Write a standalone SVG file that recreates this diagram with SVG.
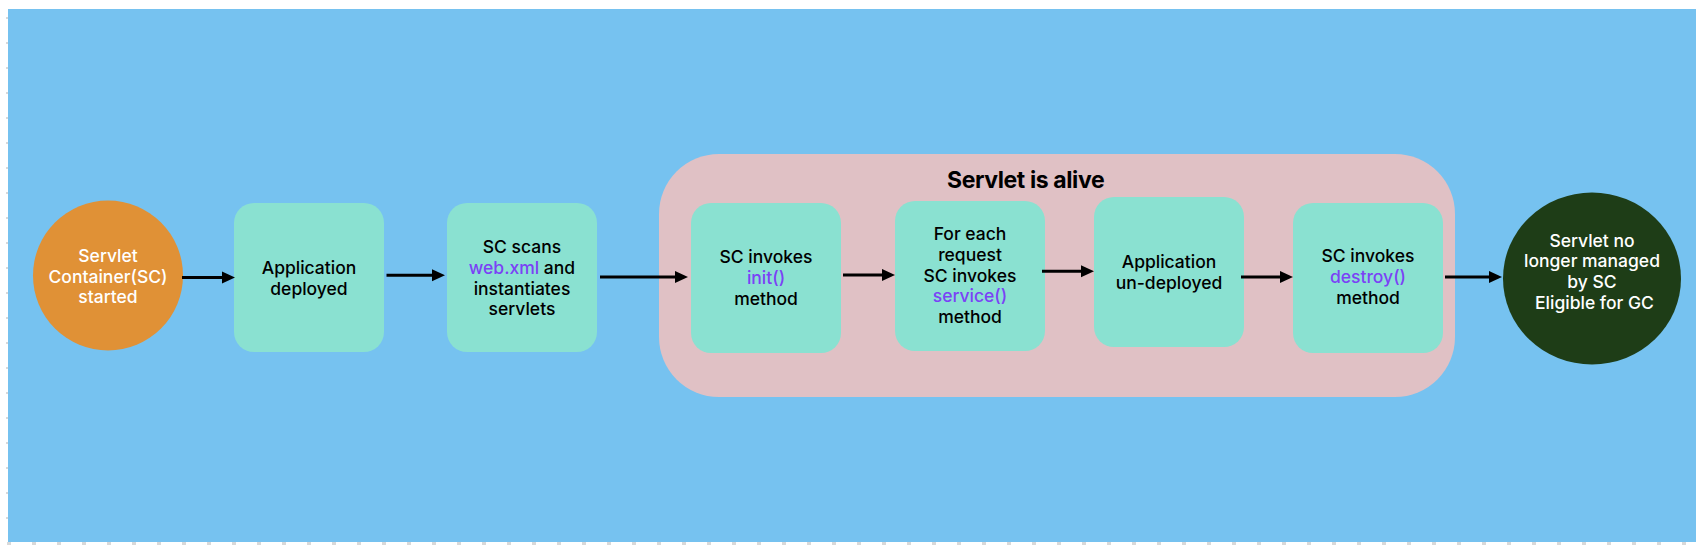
<svg xmlns="http://www.w3.org/2000/svg" width="1696" height="550" viewBox="0 0 1696 550">
<defs>
<style>
.bg{fill:#76C2F0}
.box{fill:#8AE1D1}
.t{font-family:Inter,"Liberation Sans",sans-serif;font-size:17.5px;font-weight:500;text-anchor:middle;fill:#000}
.w{fill:#fff}
.p{fill:#7B42F6}
.title{font-family:Inter,"Liberation Sans",sans-serif;font-size:23px;font-weight:700;letter-spacing:-0.4px;fill:#000}
.c{stroke:#000;stroke-width:3;fill:none;marker-end:url(#ah)}
.tick{stroke:#d9d9d9;fill:none}
</style>
<marker id="ah" markerUnits="userSpaceOnUse" markerWidth="14" markerHeight="13" refX="1" refY="6.25" orient="auto">
<path d="M0,0 L13.5,6.25 L0,12.5 z" fill="#000"/>
</marker>
</defs>
<rect width="1696" height="550" fill="#fff"/>
<rect class="bg" x="8" y="9" width="1688" height="533"/>
<line class="tick" x1="7" y1="17" x2="7" y2="542" stroke-width="2" stroke-dasharray="2 23"/>
<line class="tick" x1="7" y1="543.5" x2="1696" y2="543.5" stroke-width="3" stroke-dasharray="4 21"/>

<g id="alive-group">
<rect x="659" y="154" width="796" height="243" rx="60" fill="#E0C1C5"/>
<text class="title" x="947" y="187.5">Servlet is alive</text>
</g>

<g id="n-start">
<circle cx="108" cy="275.5" r="75" fill="#E09136"/>
<text class="t w" x="108" y="261.7">Servlet</text>
<text class="t w" x="108" y="282.7">Container(SC)</text>
<text class="t w" x="108" y="303.3">started</text>
</g>

<g id="n-deployed">
<rect class="box" x="234" y="203" width="150" height="149" rx="20"/>
<text class="t" x="309" y="274">Application</text>
<text class="t" x="309" y="294.5">deployed</text>
</g>

<g id="n-scan">
<rect class="box" x="447" y="203" width="150" height="149" rx="20"/>
<text class="t" x="522" y="253.3">SC scans</text>
<text class="t" x="522" y="273.8"><tspan class="p">web.xml</tspan> and</text>
<text class="t" x="522" y="294.5">instantiates</text>
<text class="t" x="522" y="315">servlets</text>
</g>

<g id="n-init">
<rect class="box" x="691" y="203" width="150" height="150" rx="20"/>
<text class="t" x="766" y="263.3">SC invokes</text>
<text class="t p" x="766" y="284.3">init()</text>
<text class="t" x="766" y="305">method</text>
</g>

<g id="n-service">
<rect class="box" x="895" y="201" width="150" height="150" rx="20"/>
<text class="t" x="970" y="240">For each</text>
<text class="t" x="970" y="260.7">request</text>
<text class="t" x="970" y="281.7">SC invokes</text>
<text class="t p" x="970" y="302.3">service()</text>
<text class="t" x="970" y="323.3">method</text>
</g>

<g id="n-undeployed">
<rect class="box" x="1094" y="197" width="150" height="150" rx="20"/>
<text class="t" x="1169" y="268.3">Application</text>
<text class="t" x="1169" y="289.3">un-deployed</text>
</g>

<g id="n-destroy">
<rect class="box" x="1293" y="203" width="150" height="150" rx="20"/>
<text class="t" x="1368" y="262.3">SC invokes</text>
<text class="t p" x="1368" y="283.3">destroy()</text>
<text class="t" x="1368" y="304.3">method</text>
</g>

<g id="n-end">
<ellipse cx="1592" cy="278.5" rx="89" ry="86" fill="#1E3D17"/>
<text class="t w" x="1592" y="246.7">Servlet no</text>
<text class="t w" x="1592" y="267.3">longer managed</text>
<text class="t w" x="1592" y="288">by SC</text>
<text class="t w" x="1594.5" y="309">Eligible for GC</text>
</g>

<g id="connectors">
<line class="c" x1="182" y1="277.5" x2="222.5" y2="277.5"/>
<line class="c" x1="386.5" y1="275.3" x2="432.5" y2="275.3"/>
<line class="c" x1="600" y1="277" x2="675.5" y2="277"/>
<line class="c" x1="843" y1="275" x2="882.5" y2="275"/>
<line class="c" x1="1042" y1="271.3" x2="1081.5" y2="271.3"/>
<line class="c" x1="1241" y1="277" x2="1280.5" y2="277"/>
<line class="c" x1="1445" y1="277" x2="1489.5" y2="277"/>
</g>
</svg>
